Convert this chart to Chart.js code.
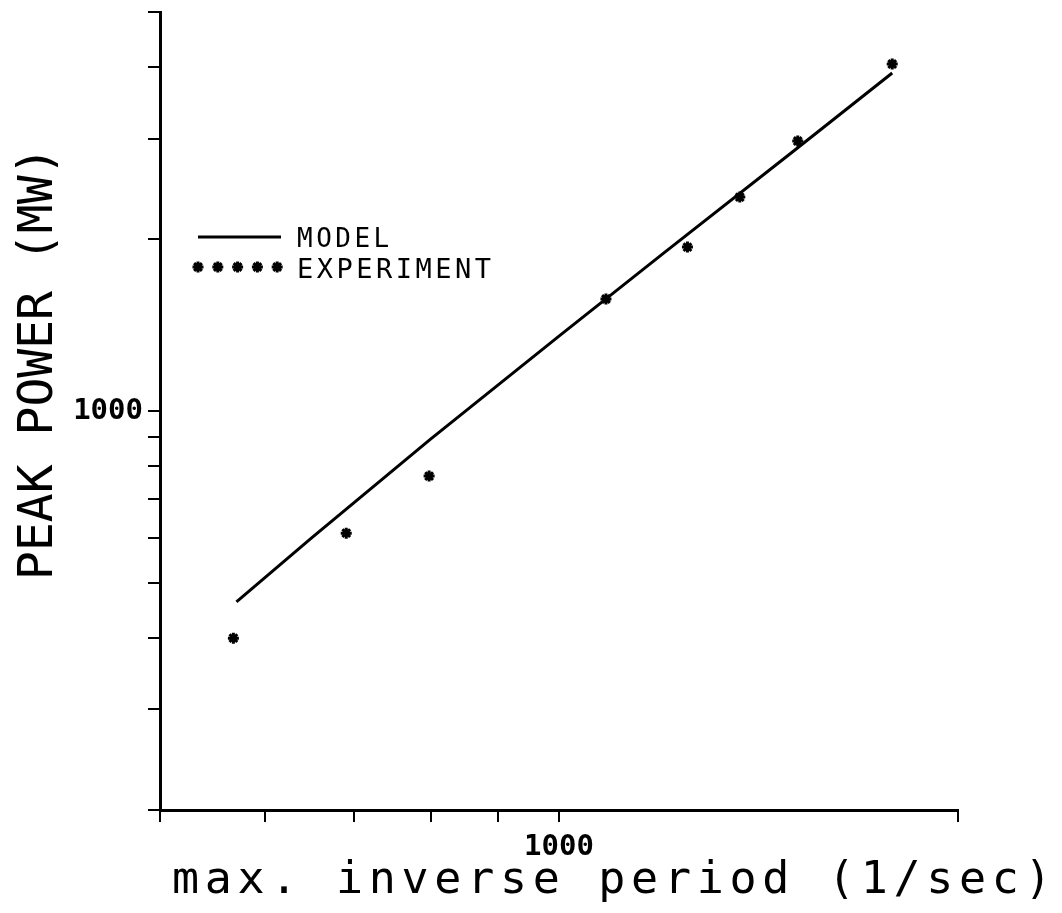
<!DOCTYPE html>
<html>
<head>
<meta charset="utf-8">
<script src="https://cdn.jsdelivr.net/npm/chart.js@4.4.1/dist/chart.umd.min.js"></script>
<style>
  html, body { margin: 0; padding: 0; background: #fff; }
  #wrap { width: 1062px; height: 913px; }
</style>
</head>
<body>
<div id="wrap"><canvas id="myChart" width="1062" height="913"></canvas></div>
<script>
// values (log-log axes)
const modelX = [571, 650, 800, 1000, 1200, 1500, 1784];
const modelY = [463, 598, 893, 1353, 1892, 2842, 3910];
const expX = [568, 691, 798, 1085, 1250, 1369, 1514, 1784];
const expY = [400, 611, 769, 1571, 1937, 2370, 2971, 4053];

const xTicks = [500, 600, 700, 800, 900, 1000, 2000];
const yTicks = [200, 300, 400, 500, 600, 700, 800, 900, 1000, 2000, 3000, 4000, 5000];
const labelledTicks = [1000];

const xTitle = 'max. inverse period (1/sec)';
const yTitle = 'PEAK POWER (MW)';
const seriesNames = ['MODEL', 'EXPERIMENT'];

const mono = '"DejaVu Sans Mono", "Liberation Mono", monospace';

// plotter-style text: axis titles and the little legend inside the plot
const plotterText = {
    id: 'plotterText',
    afterDraw(chart) {
        const ctx = chart.ctx;
        ctx.save();
        ctx.fillStyle = '#000';
        ctx.strokeStyle = '#000';
        ctx.textAlign = 'left';
        ctx.textBaseline = 'alphabetic';

        // y title, rotated
        ctx.save();
        ctx.font = '48px ' + mono;
        ctx.letterSpacing = '0px';
        ctx.translate(52, 580);
        ctx.rotate(-Math.PI / 2);
        ctx.fillText(yTitle, 0, 0);
        ctx.restore();

        // x title
        ctx.font = '45px ' + mono;
        ctx.letterSpacing = '5.7px';
        ctx.fillText(xTitle, 172, 893);

        // legend
        ctx.letterSpacing = '3.5px';
        ctx.font = '26px ' + mono;
        ctx.lineWidth = 3;
        ctx.beginPath();
        ctx.moveTo(198, 237);
        ctx.lineTo(281, 237);
        ctx.stroke();
        ctx.fillText(seriesNames[0], 297, 247);

        for (let i = 0; i < 5; i++) {
            Chart.helpers.drawPoint(ctx, { pointStyle: 'star', radius: 5.5, borderWidth: 3, rotation: 0 }, 198 + i * 19.8, 267);
        }
        ctx.font = '27px ' + mono;
        ctx.fillText(seriesNames[1], 297, 278);
        ctx.restore();
    }
};

// fixed axis boxes so the plot area lands where the original one is
function fixBox(w, h) {
    return scale => {
        if (w) scale.width = w;
        if (h) scale.height = h;
        scale.paddingTop = 0;
        scale.paddingBottom = 0;
        scale.paddingLeft = 0;
        scale.paddingRight = 0;
    };
}

const ctx = document.getElementById('myChart').getContext('2d');

const myChart = new Chart(ctx, {
    type: 'scatter',
    data: {
        datasets: [{
            label: seriesNames[0],
            data: modelX.map((x, i) => ({ x: x, y: modelY[i] })),
            showLine: true,
            borderColor: '#000',
            borderWidth: 3,
            pointRadius: 0,
            tension: 0
        }, {
            label: seriesNames[1],
            data: expX.map((x, i) => ({ x: x, y: expY[i] })),
            showLine: false,
            pointStyle: 'star',
            pointRadius: 5.5,
            pointBorderWidth: 3,
            borderColor: '#000',
            backgroundColor: '#000'
        }]
    },
    options: {
        responsive: false,
        animation: false,
        layout: { padding: { top: 12, right: 104, left: 0, bottom: 0 } },
        plugins: {
            legend: { display: false },
            tooltip: { enabled: false }
        },
        scales: {
            x: {
                type: 'logarithmic',
                min: 500,
                max: 2000,
                afterBuildTicks: scale => { scale.ticks = xTicks.map(v => ({ value: v })); },
                afterFit: fixBox(0, 103),
                ticks: {
                    autoSkip: false,
                    maxRotation: 0,
                    padding: 8,
                    color: '#000',
                    font: { family: mono, size: 29, weight: 'bold' },
                    callback: v => labelledTicks.includes(v) ? String(v) : ''
                },
                grid: { drawOnChartArea: false, drawTicks: true, tickLength: 12, color: '#000', lineWidth: 2 },
                border: { display: true, color: '#000', width: 3 }
            },
            y: {
                type: 'logarithmic',
                min: 200,
                max: 5000,
                afterBuildTicks: scale => { scale.ticks = yTicks.map(v => ({ value: v })); },
                afterFit: fixBox(160, 0),
                ticks: {
                    autoSkip: false,
                    padding: 5,
                    color: '#000',
                    font: { family: mono, size: 29, weight: 'bold' },
                    callback: v => labelledTicks.includes(v) ? String(v) : ''
                },
                grid: { drawOnChartArea: false, drawTicks: true, tickLength: 12, color: '#000', lineWidth: 2 },
                border: { display: true, color: '#000', width: 3 }
            }
        }
    },
    plugins: [plotterText]
});
</script>
</body>
</html>
